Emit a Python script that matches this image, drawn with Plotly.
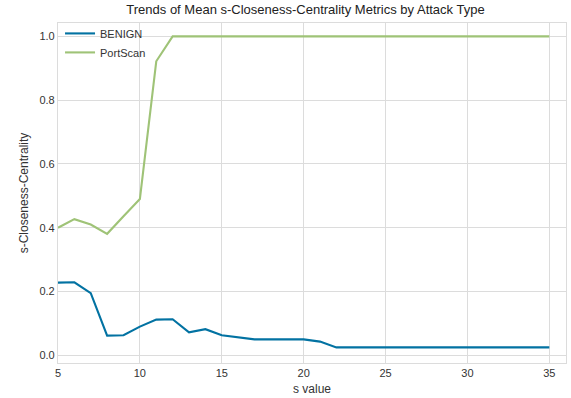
import plotly.graph_objects as go

# s values and mean s-closeness-centrality per attack type
s_values = list(range(5, 36))
benign = [0.228, 0.229, 0.195, 0.062, 0.063, 0.090, 0.112, 0.113, 0.072, 0.082,
          0.063, 0.056, 0.050, 0.050, 0.050, 0.050, 0.043, 0.025] + [0.025] * 13
portscan = [0.400, 0.427, 0.410, 0.381, 0.436, 0.490, 0.922] + [1.0] * 24

x_ticks = [5, 10, 15, 20, 25, 30, 35]
y_ticks = [0.0, 0.2, 0.4, 0.6, 0.8, 1.0]

font_family = "Liberation Sans, Arial, sans-serif"
text_color = "#333333"
grid_color = "#dcdcdc"

fig = go.Figure()
fig.add_trace(go.Scatter(x=s_values, y=benign, mode="lines", name="BENIGN",
                         line=dict(color="#0272a2", width=2.1)))
fig.add_trace(go.Scatter(x=s_values, y=portscan, mode="lines", name="PortScan",
                         line=dict(color="#9fc377", width=2.1)))

fig.update_layout(
    width=571, height=398,
    margin=dict(l=58, r=5, t=23, b=35),
    paper_bgcolor="white", plot_bgcolor="white",
    font=dict(family=font_family, color=text_color, size=11),
    title=dict(text="Trends of Mean s-Closeness-Centrality Metrics by Attack Type",
               x=0.535, xanchor="center", y=0.977, yanchor="middle",
               font=dict(size=13, color="#222222")),
    legend=dict(x=0.004, y=1.012, xanchor="left", yanchor="top",
                bgcolor="rgba(0,0,0,0)", font=dict(size=11, color=text_color),
                itemwidth=30, tracegroupgap=0),
    showlegend=True,
)
fig.update_xaxes(
    range=[5, 36.02], tickvals=x_ticks, ticktext=[str(v) for v in x_ticks],
    showgrid=True, gridcolor=grid_color, gridwidth=1.2,
    showline=True, linecolor=grid_color, linewidth=1.2, mirror=True,
    zeroline=False, ticks="", ticklen=0,
    title=dict(text="s value", font=dict(size=12, color=text_color), standoff=6),
)
fig.update_yaxes(
    range=[-0.024, 1.042], tickvals=y_ticks, ticktext=[f"{v:.1f}" for v in y_ticks],
    showgrid=True, gridcolor=grid_color, gridwidth=1.2,
    showline=True, linecolor=grid_color, linewidth=1.2, mirror=True,
    zeroline=False, ticks="", ticklen=0,
    title=dict(text="s-Closeness-Centrality", font=dict(size=12, color=text_color), standoff=8),
)

fig.write_html("out.html")
